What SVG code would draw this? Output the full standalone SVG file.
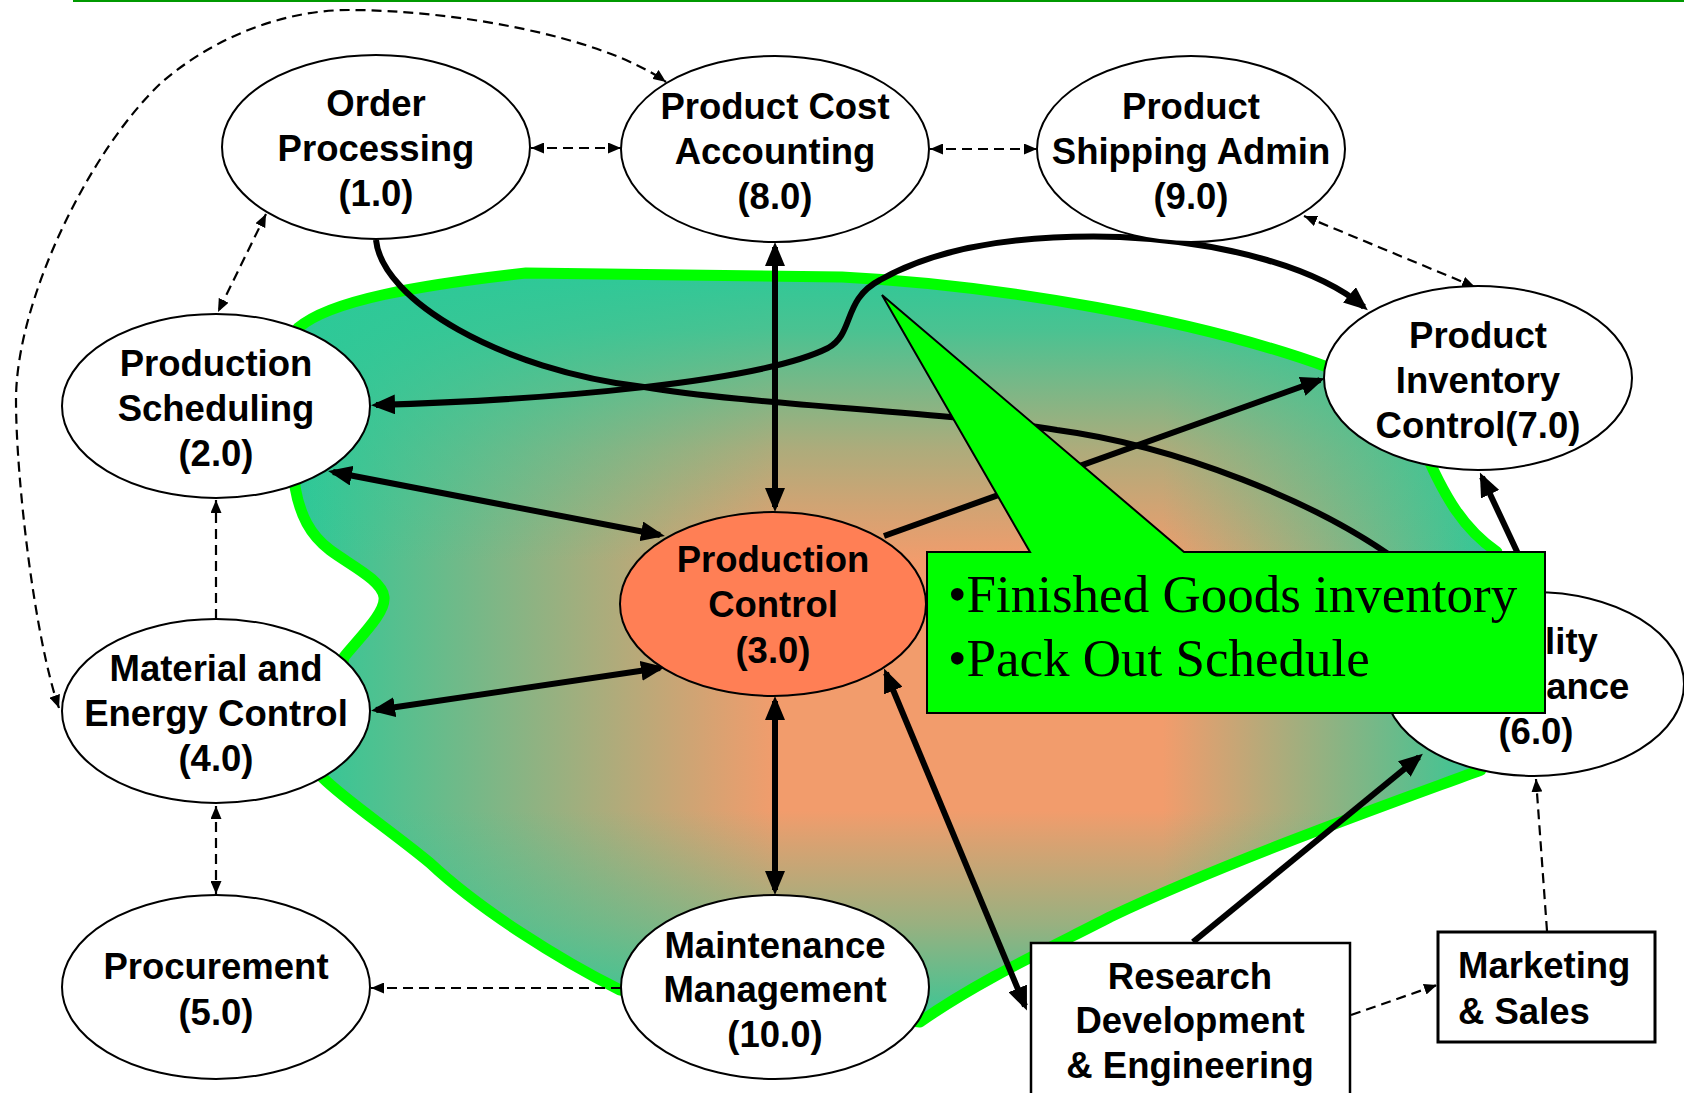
<svg xmlns="http://www.w3.org/2000/svg" xmlns:xlink="http://www.w3.org/1999/xlink" width="1684" height="1093" viewBox="0 0 1684 1093">
<style>
.n{fill:#fff;stroke:#000;stroke-width:2}
.t{font-family:"Liberation Sans",Arial,sans-serif;font-weight:bold;font-size:36.5px;text-anchor:middle;fill:#000}
.tl{text-anchor:start}
.d{fill:none;stroke:#000;stroke-width:2.2;stroke-dasharray:10,6}
.s{fill:none;stroke:#000;stroke-width:6}
.c{font-family:"Liberation Serif","Times New Roman",serif;font-size:53px;fill:#000}
</style>
<defs>
<marker id="ta" viewBox="0 0 24 20" refX="19" refY="10" markerWidth="24" markerHeight="20" markerUnits="userSpaceOnUse" orient="auto-start-reverse"><path d="M0,0 L24,10 L0,20 Z" fill="#000"/></marker>
<marker id="da" viewBox="0 0 13 11" refX="13" refY="5.5" markerWidth="13" markerHeight="11" markerUnits="userSpaceOnUse" orient="auto-start-reverse"><path d="M0,0 L13,5.5 L0,11 Z" fill="#000"/></marker>
<linearGradient id="gh" gradientUnits="userSpaceOnUse" x1="295" y1="0" x2="1500" y2="0">
<stop offset="0" stop-color="#2CC998"/>
<stop offset="0.4" stop-color="#F29C6C"/>
<stop offset="0.72" stop-color="#F29C6C"/>
<stop offset="1" stop-color="#2CC998"/>
</linearGradient>
<linearGradient id="gv" gradientUnits="userSpaceOnUse" x1="0" y1="267" x2="0" y2="1022">
<stop offset="0" stop-color="#2CC998" stop-opacity="1"/>
<stop offset="0.083" stop-color="#2CC998" stop-opacity="0.85"/>
<stop offset="0.24" stop-color="#2CC998" stop-opacity="0.35"/>
<stop offset="0.39" stop-color="#2CC998" stop-opacity="0"/>
<stop offset="0.72" stop-color="#2CC998" stop-opacity="0"/>
<stop offset="0.87" stop-color="#2CC998" stop-opacity="0.45"/>
<stop offset="1" stop-color="#2CC998" stop-opacity="0.95"/>
</linearGradient>
<path id="blob" d="M298,328 C330,300 420,285 526,273 L842,277 C1000,285 1200,320 1330,368 L1420,440 C1445,500 1465,530 1497,552 L1500,700 L1481,770 C1400,800 1230,860 1110,917 C1050,948 980,980 920,1022 L620,990 C560,960 480,910 430,863 C390,830 345,800 322,777 L344,657 C362,635 386,612 384,597 C382,580 350,565 330,550 C310,535 300,515 295,487 Z"/>
</defs>

<line x1="73" y1="1" x2="1684" y2="1" stroke="#009900" stroke-width="2"/>

<g id="region">
<use xlink:href="#blob" fill="url(#gh)"/>
<use xlink:href="#blob" fill="url(#gv)"/>
<use xlink:href="#blob" fill="none" stroke="#00FF00" stroke-width="11" stroke-linejoin="round"/>
</g>

<g id="connectors">
<path class="d" d="M59,708 C35,640 16,480 16,400 C16,300 90,150 161,83 C210,40 280,10 349,10 C450,10 600,35 666,82" marker-start="url(#da)" marker-end="url(#da)"/>
<path class="d" d="M531,148 L621,148" marker-start="url(#da)" marker-end="url(#da)"/>
<path class="d" d="M930,149 L1037,149" marker-start="url(#da)" marker-end="url(#da)"/>
<path class="d" d="M1304,216 L1475,287" marker-start="url(#da)" marker-end="url(#da)"/>
<path class="d" d="M266,214 L218,312" marker-start="url(#da)" marker-end="url(#da)"/>
<path class="d" d="M216,619 L216,500" marker-end="url(#da)"/>
<path class="d" d="M216,806 L216,894" marker-start="url(#da)" marker-end="url(#da)"/>
<path class="d" d="M621,988 L371,988" marker-end="url(#da)"/>
<path class="d" d="M1351,1015 L1437,985" marker-end="url(#da)"/>
<path class="d" d="M1547,931 L1536,779" marker-end="url(#da)"/>

<path class="s" d="M775,247 L775,507" marker-start="url(#ta)" marker-end="url(#ta)"/>
<path class="s" d="M775,701 L775,890" marker-start="url(#ta)" marker-end="url(#ta)"/>
<path class="s" d="M333,472 L660,535" marker-start="url(#ta)" marker-end="url(#ta)"/>
<path class="s" d="M376,710 L660,668" marker-start="url(#ta)" marker-end="url(#ta)"/>
<path class="s" d="M884,536 L1320,380" marker-end="url(#ta)"/>
<path class="s" d="M1536,592 L1482,477" marker-end="url(#ta)"/>
<path class="s" d="M1025,1006 L886,673" marker-start="url(#ta)" marker-end="url(#ta)"/>
<path class="s" d="M1193,942 L1419,757" marker-end="url(#ta)"/>
<path class="s" d="M376,240 C382,300 500,370 644,387 C750,405 950,412 1057,430 C1170,445 1320,500 1410,570"/>
<path class="s" d="M376,405 C550,400 760,382 828,348 C855,333 842,300 880,280 C950,240 1050,235 1120,237 C1230,242 1320,270 1364,307" marker-start="url(#ta)" marker-end="url(#ta)"/>
</g>

<g id="n1"><ellipse class="n" cx="376" cy="147" rx="154" ry="92"/>
<text class="t" x="376" y="116">Order</text><text class="t" x="376" y="161">Processing</text><text class="t" x="376" y="206">(1.0)</text></g>

<g id="n8"><ellipse class="n" cx="775" cy="149" rx="154" ry="93"/>
<text class="t" x="775" y="119">Product Cost</text><text class="t" x="775" y="164">Accounting</text><text class="t" x="775" y="209">(8.0)</text></g>

<g id="n9"><ellipse class="n" cx="1191" cy="149" rx="154" ry="93"/>
<text class="t" x="1191" y="119">Product</text><text class="t" x="1191" y="164">Shipping Admin</text><text class="t" x="1191" y="209">(9.0)</text></g>

<g id="n2"><ellipse class="n" cx="216" cy="406" rx="154" ry="92"/>
<text class="t" x="216" y="376">Production</text><text class="t" x="216" y="421">Scheduling</text><text class="t" x="216" y="466">(2.0)</text></g>

<g id="n7"><ellipse class="n" cx="1478" cy="378" rx="154" ry="92"/>
<text class="t" x="1478" y="348">Product</text><text class="t" x="1478" y="393">Inventory</text><text class="t" x="1478" y="438">Control(7.0)</text></g>

<g id="n3"><ellipse cx="773" cy="604" rx="153" ry="92" fill="#FF7F55" stroke="#000" stroke-width="2"/>
<text class="t" x="773" y="572">Production</text><text class="t" x="773" y="617">Control</text><text class="t" x="773" y="663">(3.0)</text></g>

<g id="n4"><ellipse class="n" cx="216" cy="711" rx="154" ry="92"/>
<text class="t" x="216" y="681">Material and</text><text class="t" x="216" y="726">Energy Control</text><text class="t" x="216" y="771">(4.0)</text></g>

<g id="n6"><ellipse class="n" cx="1534" cy="684" rx="150" ry="92"/>
<text class="t" x="1536" y="654">Quality</text><text class="t" x="1536" y="699">Assurance</text><text class="t" x="1536" y="744">(6.0)</text></g>

<g id="n5"><ellipse class="n" cx="216" cy="987" rx="154" ry="92"/>
<text class="t" x="216" y="979">Procurement</text><text class="t" x="216" y="1025">(5.0)</text></g>

<g id="n10"><ellipse class="n" cx="775" cy="987" rx="154" ry="92"/>
<text class="t" x="775" y="958">Maintenance</text><text class="t" x="775" y="1002">Management</text><text class="t" x="775" y="1047">(10.0)</text></g>

<g id="n11"><rect x="1031" y="943" width="319" height="170" fill="#fff" stroke="#000" stroke-width="2.5"/>
<text class="t" x="1190" y="989">Research</text><text class="t" x="1190" y="1033">Development</text><text class="t" x="1190" y="1078">&amp; Engineering</text></g>

<g id="n12"><rect x="1438" y="932" width="217" height="110" fill="#fff" stroke="#000" stroke-width="3"/>
<text class="t tl" x="1458" y="978">Marketing</text><text class="t tl" x="1458" y="1024">&amp; Sales</text></g>

<g id="callout">
<path d="M927,552 L1030,552 L882,295 L1184,552 L1545,552 L1545,713 L927,713 Z" fill="#00FF00" stroke="#000" stroke-width="2" stroke-linejoin="miter"/>
<text class="c" x="948" y="612">•Finished Goods inventory</text>
<text class="c" x="948" y="676">•Pack Out Schedule</text>
</g>
</svg>
